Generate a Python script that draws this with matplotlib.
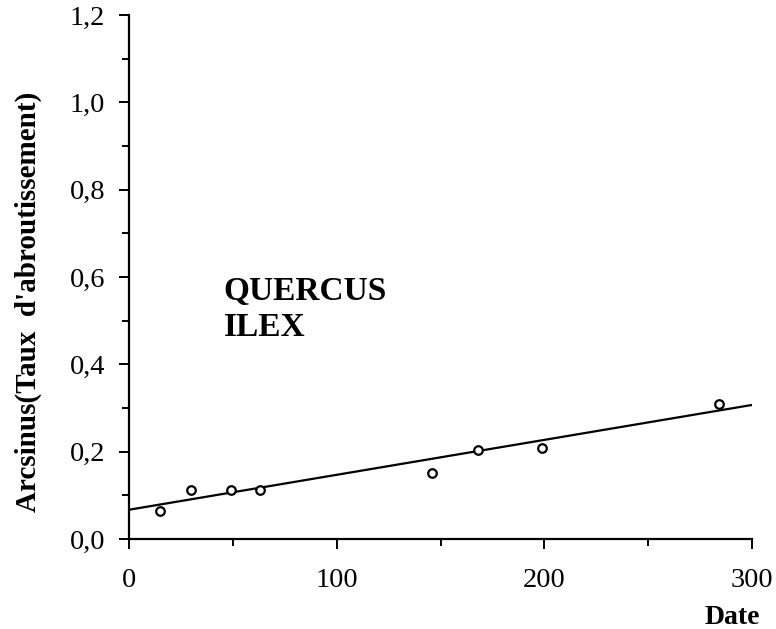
import matplotlib
matplotlib.use("Agg")
import matplotlib.pyplot as plt
import numpy as np
from matplotlib.ticker import MultipleLocator, FuncFormatter

# Data
date = [15, 30, 49, 63, 146, 168, 199, 284]
arcsin_rate = [0.065, 0.112, 0.112, 0.112, 0.152, 0.204, 0.208, 0.309]
fit_intercept = 0.067
fit_slope = 0.00080
fit_x = [0, 300]

x_ticks = [0, 100, 200, 300]
y_ticks = [0.0, 0.2, 0.4, 0.6, 0.8, 1.0, 1.2]

plt.rcParams['font.family'] = ['Liberation Serif', 'DejaVu Serif']

fig = plt.figure(figsize=(7.76, 6.29), dpi=100)
ax = fig.add_axes([129/776, 1-539/629, (752-129)/776, (539-15)/629])

fx = np.array(fit_x, dtype=float)
ax.plot(fx, fit_intercept + fit_slope*fx, color='black', lw=1.6, solid_capstyle='butt')
ax.scatter(date, arcsin_rate, s=38, facecolors='white', edgecolors='black', linewidths=1.6, zorder=3)

ax.set_xlim(0, 300)
ax.set_ylim(0, 1.2)
ax.set_xticks(x_ticks)
ax.set_yticks(y_ticks)
ax.xaxis.set_minor_locator(MultipleLocator(50))
ax.yaxis.set_minor_locator(MultipleLocator(0.1))
ax.yaxis.set_major_formatter(FuncFormatter(lambda v, p: f"{v:.1f}".replace('.', ',')))
ax.xaxis.set_major_formatter(FuncFormatter(lambda v, p: f"{int(round(v))}"))

for s in ['top', 'right']:
    ax.spines[s].set_visible(False)
for s in ['left', 'bottom']:
    ax.spines[s].set_linewidth(1.6)
    ax.spines[s].set_color('black')

ax.tick_params(axis='both', which='major', direction='out', length=7, width=1.4,
               labelsize=20.5, colors='black')
ax.tick_params(axis='both', which='minor', direction='out', length=5, width=1.4)
ax.tick_params(axis='x', which='major', pad=14)
ax.tick_params(axis='y', which='major', pad=10)

ax.text(45.5, 0.602, "QUERCUS\nILEX", fontsize=24, fontweight='bold',
        ha='left', va='top', linespacing=1.2)

fig.text(732/776, 1-618/629, "Date", fontsize=20, fontweight='bold', ha='center', va='center')
fig.text(28/776, 1-302/629, "Arcsinus(Taux  d'abroutissement)", fontsize=21, fontweight='bold',
         rotation=90, ha='center', va='center')

fig.savefig("out.png", dpi=100)
